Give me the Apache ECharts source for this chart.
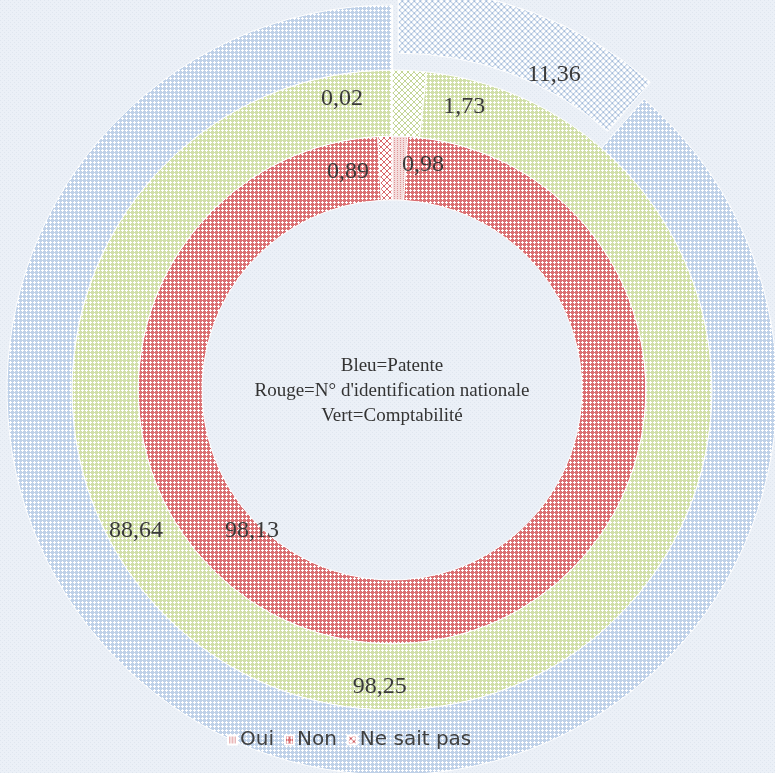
<!DOCTYPE html>
<html>
<head>
<meta charset="utf-8">
<script src="https://cdn.jsdelivr.net/npm/echarts@6/dist/echarts.min.js"></script>
<style>
html,body{margin:0;padding:0;background:#e9eef6;}
#chart{width:775px;height:773px;}
</style>
</head>
<body>
<div id="chart"></div>
<script>
// ---- data ----
var categories = ['Oui', 'Non', 'Ne sait pas'];
var patente = [11.36, 88.64, 0];            // Bleu
var identification = [0.98, 98.13, 0.89];   // Rouge
var comptabilite = [1.73, 98.25, 0.02];     // Vert
var centerLines = ['Bleu=Patente', "Rouge=N° d'identification nationale", 'Vert=Comptabilité'];

// ---- layout / style (not data) ----
var CX = 392, CY = 390;
var rings = { red: [190, 254], green: [254, 320], blue: [320, 385] };
var explode = 18;
var labelTargets = {
  red:   [[423, 168], [252, 528], [348, 175]],
  green: [[464, 110], [380, 684], [342, 102]],
  blue:  [[545, 75],  [137, 528], [0, 0]]
};

function pattern(w, h, draw) {
  var c = document.createElement('canvas');
  c.width = w; c.height = h;
  var ctx = c.getContext('2d');
  draw(ctx);
  return { image: c, repeat: 'repeat' };
}
function dots(base) {
  return pattern(4, 4, function (ctx) {
    ctx.fillStyle = base; ctx.fillRect(0, 0, 4, 4);
    ctx.fillStyle = '#ffffff';
    ctx.fillRect(2, 1, 1, 3);
    ctx.fillRect(1, 2, 3, 1);
  });
}
function diamonds(line) {
  return pattern(6, 6, function (ctx) {
    ctx.fillStyle = '#ffffff'; ctx.fillRect(0, 0, 6, 6);
    ctx.fillStyle = line;
    for (var i = 0; i < 6; i++) {
      ctx.fillRect(i, i, 1, 1);
      ctx.fillRect(5 - i, i, 1, 1);
    }
  });
}
function lightDots(base, dot) {
  return pattern(3, 2, function (ctx) {
    ctx.fillStyle = base; ctx.fillRect(0, 0, 3, 2);
    ctx.fillStyle = dot; ctx.fillRect(1, 0, 1, 1);
  });
}
function bgPattern() {
  return pattern(4, 4, function (ctx) {
    ctx.fillStyle = '#ebf0f7'; ctx.fillRect(0, 0, 4, 4);
    ctx.fillStyle = '#dfe6ef'; ctx.fillRect(0, 0, 1, 1); ctx.fillRect(2, 2, 1, 1);
  });
}

var fills = {
  red:   [lightDots('#f4dcdc', '#de9597'), dots('#da6f72'), diamonds('#d8686b')],
  green: [diamonds('#c3d596'), dots('#d1dfa9'), diamonds('#c3d596')],
  blue:  [diamonds('#a3bbda'), dots('#bfd1e8'), diamonds('#a3bbda')]
};

function fmt(v) { return v === 0 ? '' : v.toFixed(2).replace('.', ','); }

// offsets from the library's default inside-label position (mid radius, mid angle)
function offsets(values, r, targets) {
  var total = values.reduce(function (a, b) { return a + b; }, 0);
  var acc = 0;
  return values.map(function (v, i) {
    var a0 = -Math.PI / 2 + acc / total * Math.PI * 2;
    acc += v;
    var a1 = -Math.PI / 2 + acc / total * Math.PI * 2;
    var mid = (a0 + a1) / 2;
    var rr = (r[0] + r[1]) / 2;
    var x = CX + rr * Math.cos(mid), y = CY + rr * Math.sin(mid);
    return [targets[i][0] - x, targets[i][1] - y];
  });
}

function ring(name, values, key, explodedIndex) {
  var offs = offsets(values, rings[key], labelTargets[key]);
  return {
    name: name,
    type: 'pie',
    center: [CX, CY],
    radius: rings[key],
    startAngle: 90,
    clockwise: true,
    selectedMode: explodedIndex >= 0 ? 'single' : false,
    selectedOffset: explode,
    avoidLabelOverlap: false,
    emphasis: { disabled: true },
    animation: false,
    labelLine: { show: false },
    itemStyle: { borderColor: '#ffffff', borderWidth: 1 },
    data: values.map(function (v, i) {
      var lbl = {
        show: v !== 0,
        position: 'inside',
        offset: offs[i],
        formatter: function (p) { return fmt(p.value); },
        fontFamily: '"Liberation Serif", serif',
        fontSize: 24,
        color: '#3a3a3a'
      };
      return {
        name: categories[i],
        value: v,
        selected: i === explodedIndex,
        itemStyle: { color: fills[key][i] },
        label: lbl,
        select: {
          itemStyle: { color: fills[key][i], borderColor: '#ffffff', borderWidth: 1 },
          label: lbl
        }
      };
    })
  };
}

var chart = echarts.init(document.getElementById('chart'), null, { renderer: 'canvas' });
chart.setOption({
  backgroundColor: bgPattern(),
  animation: false,
  legend: {
    left: 222,
    top: 725,
    itemWidth: 9,
    itemHeight: 9,
    itemGap: 10,
    selectedMode: false,
    textStyle: { fontFamily: '"DejaVu Sans", sans-serif', fontSize: 20, color: '#404040', padding: [0, 0, 0, -2] },
    data: [
      { name: categories[0], icon: 'rect', itemStyle: { color: fills.red[0] } },
      { name: categories[1], icon: 'rect', itemStyle: { color: fills.red[1] } },
      { name: categories[2], icon: 'rect', itemStyle: { color: diamonds('#d0585b') } }
    ]
  },
  graphic: [{
    type: 'text',
    x: CX,
    y: CY + 1,
    silent: true,
    style: {
      text: centerLines.join('\n'),
      textAlign: 'center',
      textVerticalAlign: 'middle',
      font: '19px "Liberation Serif", serif',
      lineHeight: 25,
      fill: '#333333'
    }
  }],
  series: [
    ring('N° d\'identification nationale', identification, 'red', -1),
    ring('Comptabilité', comptabilite, 'green', -1),
    ring('Patente', patente, 'blue', 0)
  ]
});
</script>
</body>
</html>
